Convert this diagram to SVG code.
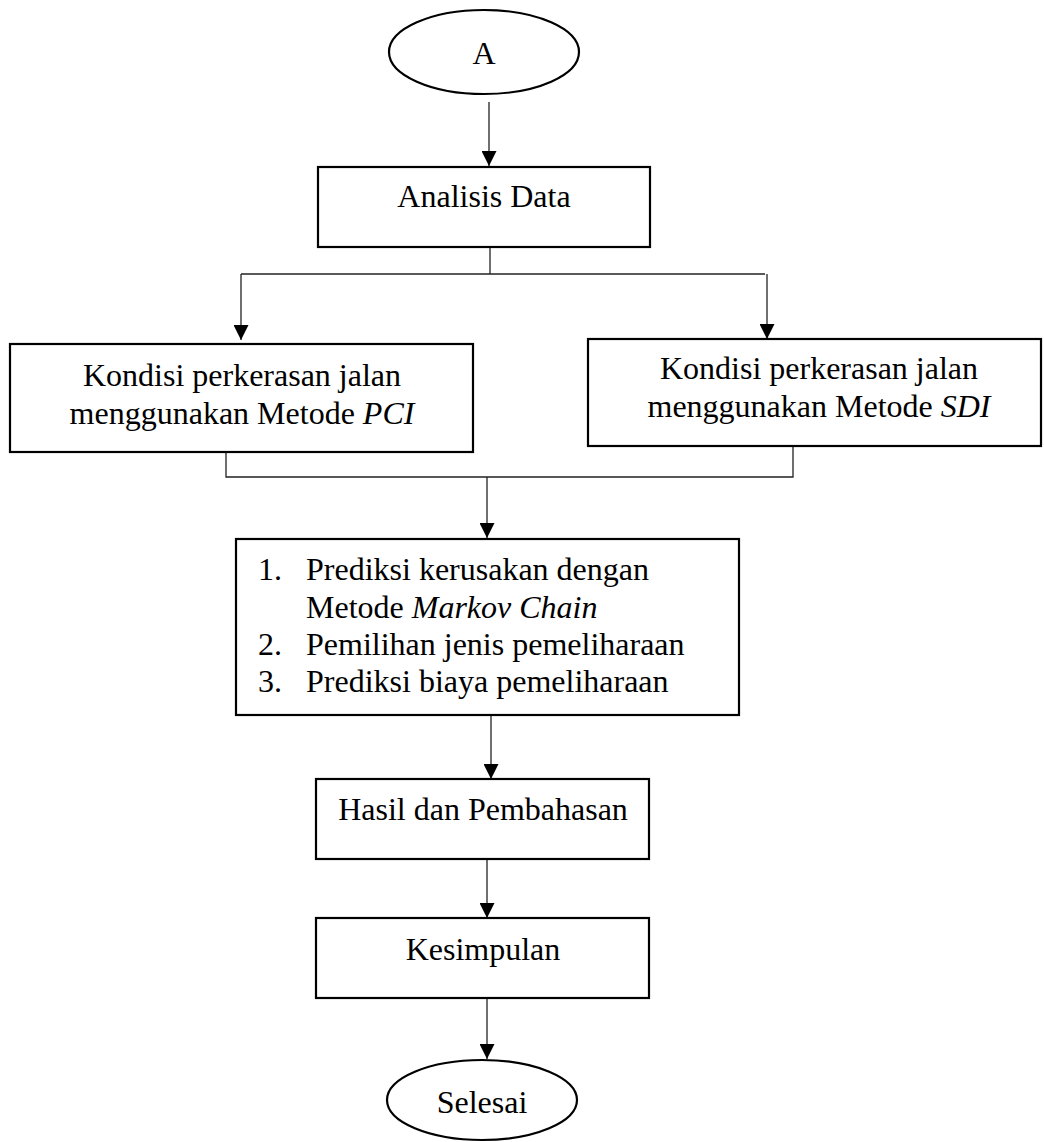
<svg xmlns="http://www.w3.org/2000/svg" width="1044" height="1142" viewBox="0 0 1044 1142">
<style>
.box{fill:#fff;stroke:#000;stroke-width:2.2}
.ln{fill:none;stroke:#222;stroke-width:1.3}
text{font-family:"Liberation Serif","Times New Roman",serif;font-size:32px;fill:#000}
.c{text-anchor:middle}
.i{font-style:italic}
</style>
<defs>
<marker id="arr" viewBox="0 0 10 10" refX="10" refY="5" markerWidth="15" markerHeight="15" markerUnits="userSpaceOnUse" orient="auto">
<path d="M0,0 L10,5 L0,10 z" fill="#000"/>
</marker>
</defs>
<rect width="1044" height="1142" fill="#fff"/>
<g id="connectors">
<line class="ln" x1="489" y1="102" x2="489" y2="166" marker-end="url(#arr)"/>
<polyline class="ln" points="490,247 490,274"/>
<polyline class="ln" points="241,274 765,274"/>
<line class="ln" x1="241" y1="274" x2="241" y2="340" marker-end="url(#arr)"/>
<line class="ln" x1="767" y1="274" x2="767" y2="339" marker-end="url(#arr)"/>
<polyline class="ln" points="226,452 226,477 793,477 793,446"/>
<line class="ln" x1="487" y1="477" x2="487" y2="538" marker-end="url(#arr)"/>
<line class="ln" x1="491" y1="715" x2="491" y2="779" marker-end="url(#arr)"/>
<line class="ln" x1="487" y1="859" x2="487" y2="918" marker-end="url(#arr)"/>
<line class="ln" x1="487" y1="998" x2="487" y2="1059" marker-end="url(#arr)"/>
</g>
<g id="start">
<ellipse class="box" cx="484" cy="52" rx="95" ry="42"/>
<text class="c" x="484" y="64">A</text>
</g>
<g id="analisis">
<rect class="box" x="318" y="167" width="332" height="80"/>
<text class="c" x="484" y="207">Analisis Data</text>
</g>
<g id="pci">
<rect class="box" x="10" y="344" width="463" height="108"/>
<text class="c" x="242" y="386">Kondisi perkerasan jalan</text>
<text class="c" x="242" y="424">menggunakan Metode <tspan class="i">PCI</tspan></text>
</g>
<g id="sdi">
<rect class="box" x="588" y="339" width="453" height="107"/>
<text class="c" x="819" y="379">Kondisi perkerasan jalan</text>
<text class="c" x="819" y="417">menggunakan Metode <tspan class="i">SDI</tspan></text>
</g>
<g id="markov">
<rect class="box" x="236" y="539" width="503" height="176"/>
<text x="258" y="580">1.</text>
<text x="306" y="580">Prediksi kerusakan dengan</text>
<text x="306" y="618">Metode <tspan class="i">Markov Chain</tspan></text>
<text x="258" y="655">2.</text>
<text x="306" y="655">Pemilihan jenis pemeliharaan</text>
<text x="258" y="692">3.</text>
<text x="306" y="692">Prediksi biaya pemeliharaan</text>
</g>
<g id="hasil">
<rect class="box" x="316" y="779" width="333" height="80"/>
<text class="c" x="483" y="820">Hasil dan Pembahasan</text>
</g>
<g id="kesimpulan">
<rect class="box" x="316" y="918" width="333" height="80"/>
<text class="c" x="483" y="960">Kesimpulan</text>
</g>
<g id="selesai">
<ellipse class="box" cx="482" cy="1100" rx="95" ry="40"/>
<text class="c" x="482" y="1113">Selesai</text>
</g>
</svg>
